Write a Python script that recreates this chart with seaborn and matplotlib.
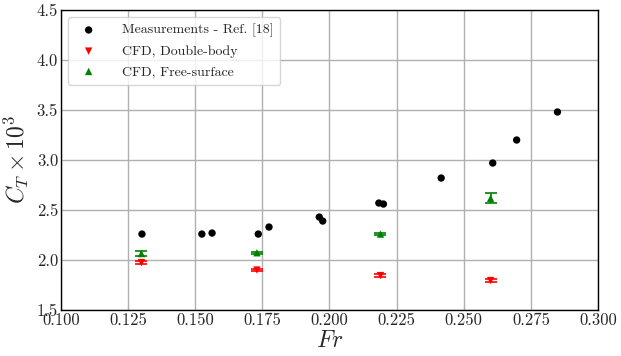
"""Total resistance coefficient versus Froude number: measurements and CFD."""

import numpy as np
import pandas as pd
import matplotlib
matplotlib.use('Agg')
import matplotlib.pyplot as plt
import seaborn as sns

# Measurements - Ref. [18]
meas_fr = [0.1302, 0.1525, 0.1563, 0.1735, 0.1775, 0.1962, 0.1975,
           0.2184, 0.2201, 0.2416, 0.2608, 0.2697, 0.2849]
meas_ct = [2.26, 2.26, 2.27, 2.26, 2.33, 2.43, 2.39,
           2.57, 2.56, 2.82, 2.97, 3.20, 3.48]

# CFD results
cfd_fr = [0.130, 0.173, 0.219, 0.260]
db_ct = [1.975, 1.90, 1.845, 1.795]
db_err = [0.015, 0.012, 0.012, 0.012]
fs_ct = [2.065, 2.073, 2.26, 2.617]
fs_err = [0.027, 0.012, 0.012, 0.05]

sns.set_style('white')
plt.rcParams['font.family'] = ['cmr10', 'DejaVu Serif']
plt.rcParams['mathtext.fontset'] = 'cm'
plt.rcParams['axes.formatter.use_mathtext'] = True

meas = pd.DataFrame({'Fr': meas_fr, 'CT': meas_ct})
cfd = pd.DataFrame({'Fr': cfd_fr, 'DB': db_ct, 'DB_err': db_err,
                    'FS': fs_ct, 'FS_err': fs_err})

fig = plt.figure(figsize=(6.21, 3.56), dpi=100)
ax = fig.add_axes([0.098, 0.129, 0.865, 0.843])

# error bars first, markers on top
ax.errorbar(cfd['Fr'], cfd['DB'], yerr=cfd['DB_err'], fmt='none',
            ecolor='red', elinewidth=1.2, capsize=4, capthick=1.2, zorder=2)
ax.errorbar(cfd['Fr'], cfd['FS'], yerr=cfd['FS_err'], fmt='none',
            ecolor='green', elinewidth=1.2, capsize=4, capthick=1.2, zorder=2)

sns.scatterplot(data=meas, x='Fr', y='CT', ax=ax, color='black', marker='o',
                s=28, edgecolor='none', label='Measurements - Ref. [18]', zorder=3)
sns.scatterplot(data=cfd, x='Fr', y='DB', ax=ax, color='red', marker='v',
                s=28, edgecolor='none', label='CFD, Double-body', zorder=3)
sns.scatterplot(data=cfd, x='Fr', y='FS', ax=ax, color='green', marker='^',
                s=28, edgecolor='none', label='CFD, Free-surface', zorder=3)

ax.set_xlim(0.1, 0.3)
ax.set_ylim(1.5, 4.5)
ax.set_xticks(np.arange(0.1, 0.3001, 0.025))
ax.set_yticks(np.arange(1.5, 4.501, 0.5))
ax.set_xticklabels([f'{t:.3f}' for t in ax.get_xticks()])
ax.set_yticklabels([f'{t:.1f}' for t in ax.get_yticks()])
ax.tick_params(labelsize=12, length=3, direction='in', pad=2)

ax.grid(True, color='#b0b0b0', linewidth=1)
ax.set_axisbelow(True)
for sp in ax.spines.values():
    sp.set_color('black')
    sp.set_linewidth(1)

ax.set_xlabel(r'$Fr$', fontsize=17, labelpad=1)
ax.set_ylabel(r'$C_T \times 10^3$', fontsize=17, labelpad=4)

ax.legend(loc='upper left', fontsize=10, frameon=True, framealpha=0.8,
          borderpad=0.5, handletextpad=1.4, labelspacing=0.55)

fig.savefig('out.png', dpi=100)
